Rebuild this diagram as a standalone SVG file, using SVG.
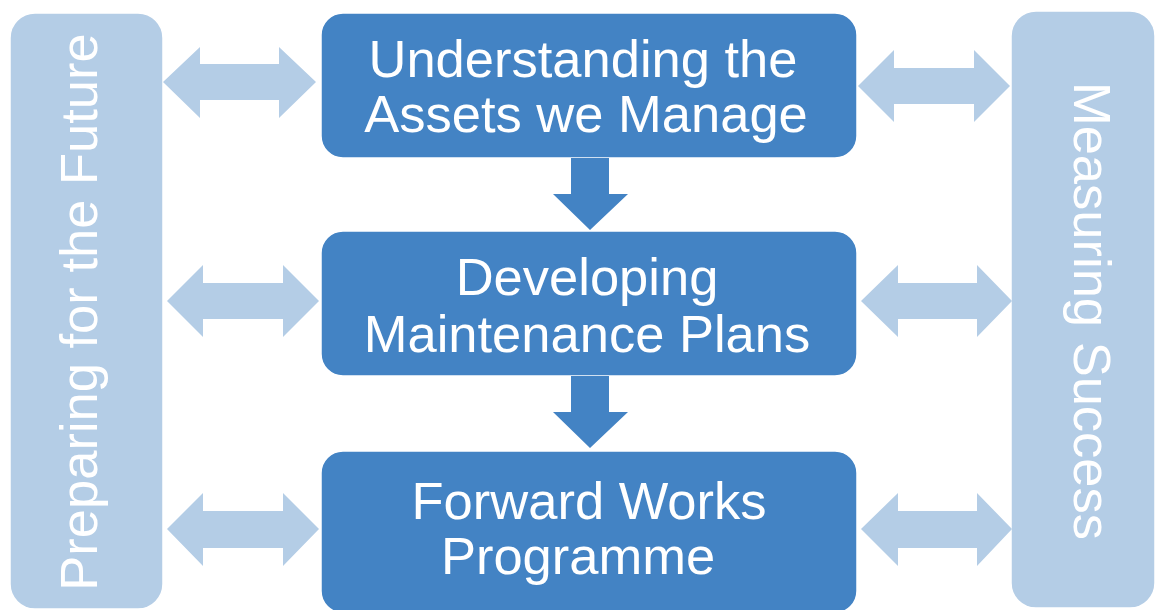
<svg xmlns="http://www.w3.org/2000/svg" width="1155" height="610" viewBox="0 0 1155 610">
  <style>
    .bar { fill: #B4CDE6; stroke: #FFFFFF; stroke-width: 1.5; }
    .box { fill: #4383C4; stroke: #FFFFFF; stroke-width: 1.5; }
    .dbl { fill: #B4CDE6; }
    .down { fill: #4383C4; }
    .lbl { font-family: "Liberation Sans", Arial, sans-serif; font-size: 52.5px; fill: #FFFFFF; text-anchor: middle; }
  </style>
  <rect width="1155" height="610" fill="#FFFFFF"/>
  <g id="preparing">
    <rect class="bar" x="10" y="13" width="153" height="596" rx="25"/>
    <text class="lbl" transform="translate(97,312) rotate(-90)">Preparing for the Future</text>
  </g>
  <g id="measuring">
    <rect class="bar" x="1011" y="11" width="144" height="597" rx="25"/>
    <text class="lbl" transform="translate(1074,311) rotate(90)">Measuring Success</text>
  </g>
  <g id="understanding">
    <rect class="box" x="321" y="13" width="536" height="145" rx="22"/>
    <text class="lbl"><tspan x="583" y="77">Understanding the</tspan><tspan x="586" y="132">Assets we Manage</tspan></text>
  </g>
  <g id="developing">
    <rect class="box" x="321" y="231" width="536" height="145" rx="22"/>
    <text class="lbl"><tspan x="587" y="295">Developing</tspan><tspan x="587" y="352">Maintenance Plans</tspan></text>
  </g>
  <g id="forward">
    <rect class="box" x="321" y="451" width="536" height="162" rx="22"/>
    <text class="lbl"><tspan x="589" y="519">Forward Works</tspan><tspan x="578" y="574">Programme</tspan></text>
  </g>
  <g id="connectors">
    <polygon class="down" points="571,158 609,158 609,194 628,194 590,230 553,194 571,194"/>
    <polygon class="down" points="571,376 609,376 609,412 628,412 590,448 553,412 571,412"/>
    <polygon class="dbl" points="163,82 200,47 200,64 279,64 279,47 316,82 279,118 279,100 200,100 200,118"/>
    <polygon class="dbl" points="858,86 894,50 894,68 974,68 974,50 1010,86 974,122 974,104 894,104 894,122"/>
    <polygon class="dbl" points="167,301 203,265 203,283 283,283 283,265 319,301 283,337 283,319 203,319 203,337"/>
    <polygon class="dbl" points="861,301 898,265 898,283 977,283 977,265 1012,301 977,337 977,319 898,319 898,337"/>
    <polygon class="dbl" points="167,529 203,493 203,511 283,511 283,493 319,529 283,566 283,548 203,548 203,566"/>
    <polygon class="dbl" points="861,529 898,493 898,511 977,511 977,493 1012,529 977,566 977,548 898,548 898,566"/>
  </g>
</svg>
